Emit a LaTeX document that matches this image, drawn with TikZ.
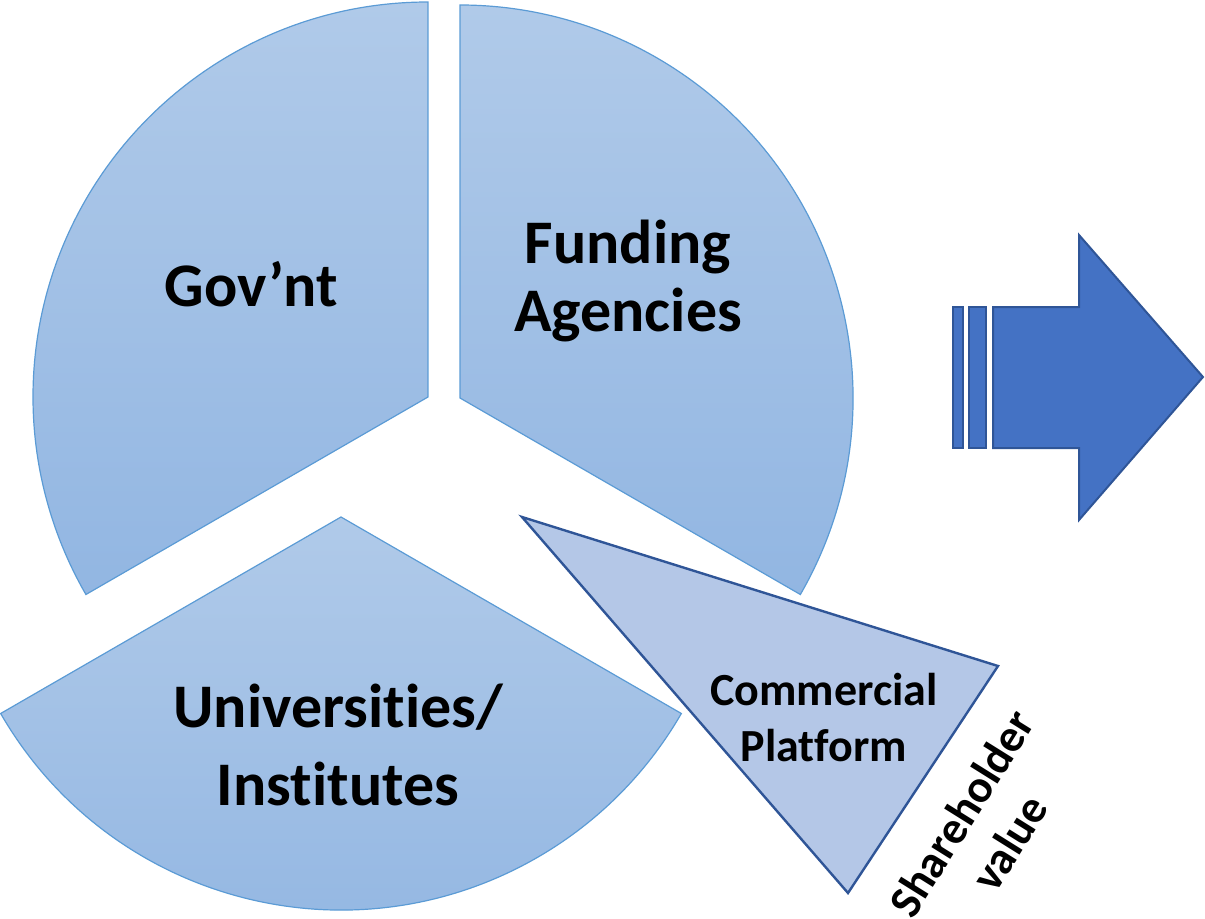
\documentclass[tikz,border=0pt]{standalone}
\usepackage{fontspec}
\setmainfont{Carlito}[Ligatures={TeX,NoCommon}]
\usepackage{tikz}

\definecolor{pietop}{HTML}{B0CAE9}
\definecolor{piebottom}{HTML}{92B6E2}
\definecolor{pieline}{HTML}{5B9BD5}
\definecolor{platformfill}{HTML}{B4C7E7}
\definecolor{darkline}{HTML}{2F5597}
\definecolor{arrowblue}{HTML}{4472C4}

\tikzset{
    sector/.style={draw=pieline, line width=0.6pt, top color=pietop, bottom color=piebottom},
    bigtext/.style={font=\bfseries\fontsize{31}{34}\selectfont, align=center},
    smalltext/.style={font=\bfseries\fontsize{23}{28}\selectfont, align=center},
    arrowpart/.style={draw=darkline, fill=arrowblue, line width=1pt}
}

\begin{document}
\begin{tikzpicture}[x=0.5pt, y=0.5pt]
    \useasboundingbox (0,0) rectangle (1205,918);

    % Gov'nt
    \draw[sector] (428,521) -- ++(90:395) arc[start angle=90, end angle=210, radius=395] -- cycle;
    \node[bigtext] (govnt) at (251,634) {Gov’nt};

    % Funding agencies
    \draw[sector] (460,520) -- ++(-30:393) arc[start angle=-30, end angle=90, radius=393] -- cycle;
    \node[bigtext] (funding) at (628,637) {Funding\\Agencies};

    % Universities
    \draw[sector] (341,401) -- ++(210:393) arc[start angle=210, end angle=330, radius=393] -- cycle;
    \node[bigtext, font=\bfseries\fontsize{31}{39}\selectfont] (univ) at (338,173) {Universities/\\Institutes};

    % Commercial platform
    \draw[draw=darkline, line width=1.2pt, fill=platformfill] (522,401) -- (998,252) -- (848,25) -- cycle;
    \node[smalltext] (platform) at (824,200) {Commercial\\Platform};
    \node[smalltext, rotate=58] (value) at (985,90) {Shareholder\\value};

    % Striped arrow
    \draw[arrowpart] (953,470) rectangle (963,611);
    \draw[arrowpart] (969,470) rectangle (986,611);
    \draw[arrowpart] (993,470) -- (1079,470) -- (1079,398) -- (1203,541)
        -- (1079,683) -- (1079,611) -- (993,611) -- cycle;
\end{tikzpicture}
\end{document}
